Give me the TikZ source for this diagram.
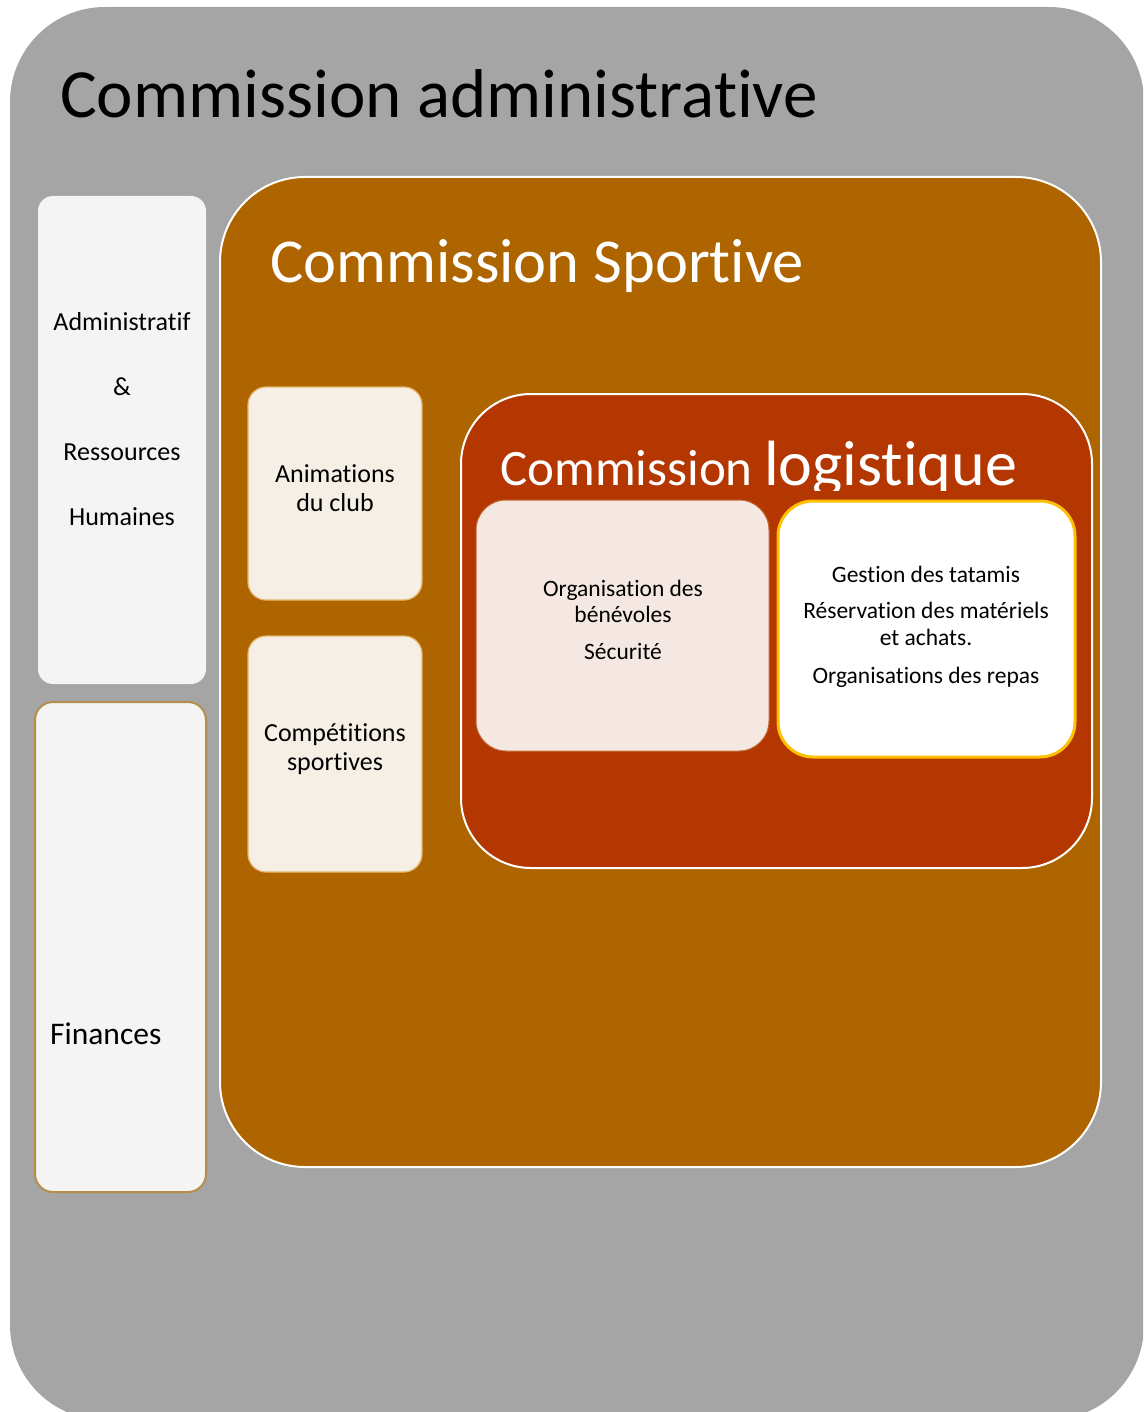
\documentclass[tikz,border=0pt]{standalone}
\usepackage{fontspec}
\setmainfont{Carlito}[Ligatures=NoCommon]
\definecolor{gris}{HTML}{A5A5A5}
\definecolor{brun}{HTML}{AE6500}
\definecolor{rouille}{HTML}{B43600}
\definecolor{pale}{HTML}{F4F4F4}
\definecolor{lin}{HTML}{F5EFE6}
\definecolor{rose}{HTML}{F5E8E3}
\definecolor{orliseret}{HTML}{B58F4A}
\definecolor{orclair}{HTML}{E3B66B}
\definecolor{bordrose}{HTML}{C06A35}
\definecolor{jaune}{HTML}{FFC000}
\begin{document}
\begin{tikzpicture}[x=1pt,y=-1pt,
  box/.style={rectangle, anchor=north west, inner sep=0pt, outer sep=0pt},
  lbl/.style={inner sep=0pt, align=center, text=black}]
\useasboundingbox (0,0) rectangle (1143,1412);
\clip (0,0) rectangle (1143,1412);
% outer grey
\node[box, fill=gris, rounded corners=95pt, minimum width=1134pt, minimum height=1413pt] (adm) at (10,7) {};
\node[anchor=base west, inner sep=0pt, font=\fontsize{69}{80}\selectfont] (admtitre) at (60,118) {Commission administrative};
% left boxes
\node[box, fill=pale, rounded corners=15pt, minimum width=168pt, minimum height=488pt] (rh) at (38,196) {};
\node[lbl, font=\fontsize{26}{65}\selectfont] (rhtxt) at (122,419) {Administratif\\\&\\Ressources\\Humaines};
\node[box, fill=pale, draw=orliseret, line width=2pt, rounded corners=18pt, minimum width=171pt, minimum height=490pt] (fin) at (35,702) {};
\node[anchor=west, inner sep=0pt, font=\fontsize{31.5}{38}\selectfont] (fintxt) at (50,1034) {Finances};
% sportive
\node[box, fill=brun, draw=white, line width=2pt, rounded corners=85pt, minimum width=881pt, minimum height=990pt] (spo) at (220,177) {};
\node[anchor=base west, inner sep=0pt, text=white, font=\fontsize{62.5}{70}\selectfont] (spotitre) at (270,283) {Commission Sportive};
\node[box, fill=lin, draw=orclair, line width=1.2pt, rounded corners=18pt, minimum width=174pt, minimum height=213pt] (ani) at (248,387) {};
\node[lbl, font=\fontsize{26}{29}\selectfont] (anitxt) at (335,488) {Animations\\du club};
\node[box, fill=lin, draw=orclair, line width=1.2pt, rounded corners=18pt, minimum width=174pt, minimum height=236pt] (comp) at (248,636) {};
\node[lbl, font=\fontsize{26}{29}\selectfont] (comptxt) at (335,749) {Compétitions\\sportives};
% logistique
\node[box, fill=rouille, draw=white, line width=2pt, rounded corners=70pt, minimum width=631pt, minimum height=474pt] (log) at (461,394) {};
\begin{scope}
\clip (461,394) rectangle (1092,490);
\node[anchor=base west, inner sep=0pt, text=white] (logtitre) at (500,485) {\fontsize{51}{60}\selectfont Commission {\fontsize{64}{70}\selectfont logistique}};
\end{scope}
\node[box, fill=rose, draw=bordrose, line width=1pt, rounded corners=30pt, minimum width=293pt, minimum height=251pt] (org) at (476,500) {};
\node[lbl, font=\fontsize{23.5}{26}\selectfont] (orgtxt) at (623,620) {Organisation des\\bénévoles\\[11pt]Sécurité};
\node[box, fill=white, draw=jaune, line width=3pt, rounded corners=35pt, minimum width=297pt, minimum height=256pt] (ges) at (778,501) {};
\node[lbl, font=\fontsize{23.5}{27}\selectfont] (gestxt) at (926,627) {Gestion des tatamis\\[9pt]Réservation des matériels\\et achats.\\[11pt]Organisations des repas};
\end{tikzpicture}
\end{document}
